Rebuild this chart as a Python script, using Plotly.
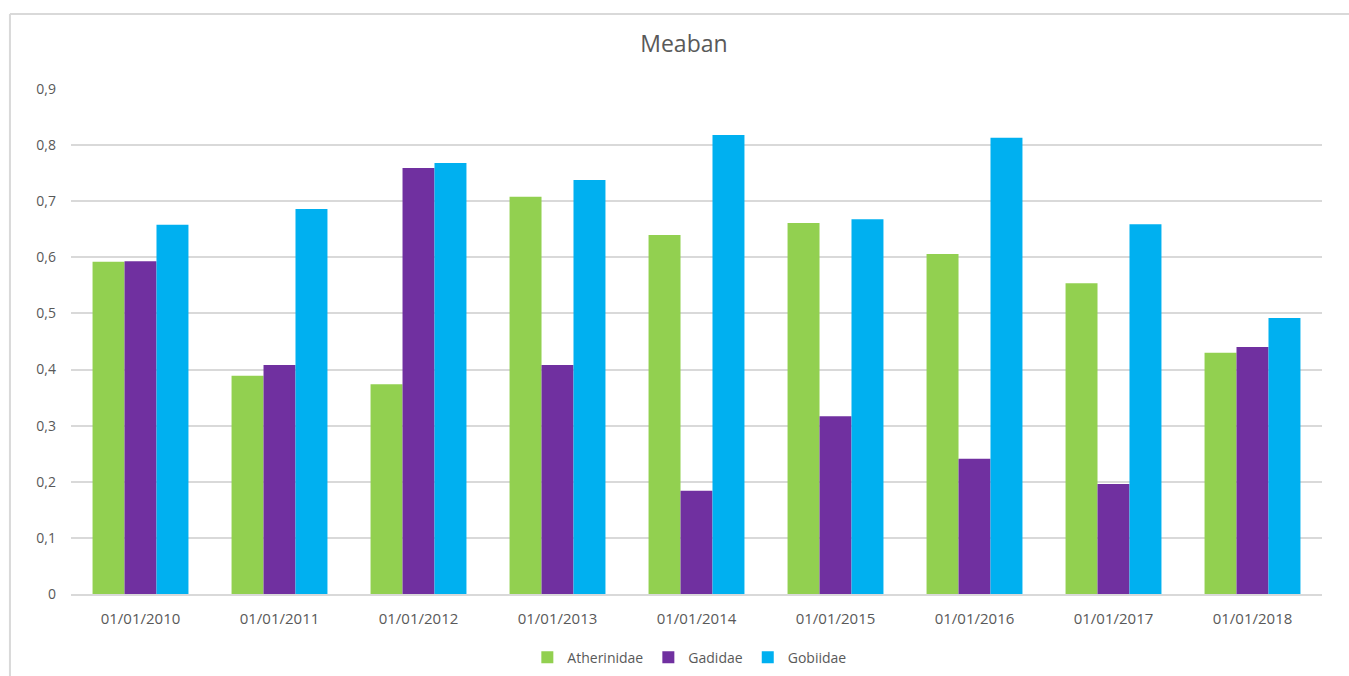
import plotly.graph_objects as go

# Sampling dates (category axis)
dates = ["01/01/2010", "01/01/2011", "01/01/2012", "01/01/2013", "01/01/2014",
         "01/01/2015", "01/01/2016", "01/01/2017", "01/01/2018"]

# Mean values per family
atherinidae = [0.592, 0.389, 0.374, 0.708, 0.640, 0.661, 0.606, 0.554, 0.430]
gadidae = [0.593, 0.408, 0.759, 0.408, 0.184, 0.317, 0.241, 0.196, 0.440]
gobiidae = [0.658, 0.686, 0.768, 0.738, 0.818, 0.668, 0.813, 0.659, 0.492]

series = [
    ("Atherinidae", atherinidae, "#92d050"),
    ("Gadidae", gadidae, "#7030a0"),
    ("Gobiidae", gobiidae, "#00b0f0"),
]

FONT = "Open Sans"
TEXT = "#595959"
GRID = "#d9d9d9"

fig = go.Figure()
for name, vals, color in series:
    fig.add_trace(go.Bar(x=dates, y=vals, name=name, marker_color=color,
                         marker_line_width=0))

fig.update_layout(
    width=1349, height=676,
    margin=dict(l=71, r=27, t=89, b=82, autoexpand=False),
    paper_bgcolor="white", plot_bgcolor="white",
    separators=",.",
    barmode="group", bargap=0.31, bargroupgap=0,
    font=dict(family=FONT, size=14, color=TEXT),
    title=dict(text="Meaban", x=0.507, xanchor="center", xref="container",
               y=0.935, yanchor="middle",
               font=dict(family=FONT, size=23, color=TEXT)),
    legend=dict(orientation="h", x=0.511, xanchor="center", xref="container",
                y=0.027, yanchor="middle", yref="container",
                font=dict(family=FONT, size=14, color=TEXT),
                itemwidth=30, traceorder="normal"),
    showlegend=True,
)
fig.update_xaxes(showgrid=False, showline=True, linecolor=GRID, linewidth=1.5,
                 ticks="", ticklabelstandoff=10, automargin=False,
                 tickfont=dict(family=FONT, size=15, color=TEXT))
fig.update_yaxes(range=[0, 0.9], dtick=0.1, showgrid=True, gridcolor=GRID,
                 gridwidth=1.5, zeroline=False, showline=False, ticks="",
                 ticklabelstandoff=14, automargin=False,
                 tickfont=dict(family=FONT, size=14, color=TEXT))

# Outer chart frame (top and left edges)
fig.add_shape(type="line", xref="paper", yref="paper", x0=-0.0488, x1=1.03,
              y0=1.1485, y1=1.1485, line=dict(color=GRID, width=2))
fig.add_shape(type="line", xref="paper", yref="paper", x0=-0.0488, x1=-0.0488,
              y0=1.1485, y1=-0.2, line=dict(color=GRID, width=2))

fig.write_html("out.html")
